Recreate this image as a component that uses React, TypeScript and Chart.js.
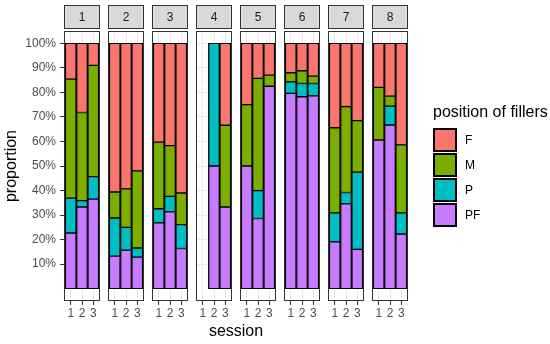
import React, { useEffect, useRef } from 'react';
import { Chart, registerables } from 'chart.js';

Chart.register(...registerables);

// ---------------- data ----------------
const panels = ['1', '2', '3', '4', '5', '6', '7', '8'];
const sessions = [1, 2, 3];
const fillerLevels = ['F', 'M', 'P', 'PF'];
const levelColors = ['#F8766D', '#7CAE00', '#00BFC4', '#C77CFF'];
const yTickValues = [10, 20, 30, 40, 50, 60, 70, 80, 90, 100];
const yMinorValues = [5, 15, 25, 35, 45, 55, 65, 75, 85, 95];

// proportions (%) per panel, sessions 1..3 (null = no data)
const PF = [[22.7, 33.3, 36.5], [13.3, 15.7, 12.9], [26.8, 31.3, 16.4], [null, 50, 33.3], [50, 28.6, 82.5], [79.6, 78.2, 78.6], [19.1, 34.6, 16.0], [60.6, 66.7, 22.3]];
const P = [[14.2, 2.6, 9.2], [15.5, 9.3, 3.7], [5.8, 6.3, 9.7], [null, 50, 0], [0, 11.4, 0], [4.7, 5.4, 5.0], [11.8, 4.6, 31.5], [0, 7.7, 8.6]];
const M = [[48.5, 35.9, 45.3], [10.6, 15.7, 31.4], [27.1, 20.7, 12.9], [null, 0, 33.3], [25, 45.7, 4.5], [3.7, 5.2, 3.0], [34.7, 35.0, 21.0], [21.4, 4.1, 27.7]];
const F = [[14.6, 28.2, 9.0], [60.6, 59.3, 52.0], [40.3, 41.7, 61.0], [null, 0, 33.4], [25, 14.3, 13.0], [12.0, 11.2, 13.4], [34.4, 25.8, 31.5], [18.0, 21.5, 41.4]];

// ---------------- layout / style ----------------
const W = 550;
const H = 344;
const PANEL_LEFT0 = 64;
const PANEL_STEP = 44;
const PANEL_W = 36;
const PANEL_TOP = 31;
const X_AXIS_H = 43;
const Y_AXIS_W = 64;
const STRIP_TOP = 5;
const STRIP_H = 24;
const FONT = '"Liberation Sans", Arial, Helvetica, sans-serif';

Chart.defaults.font.family = FONT;

const facetPlugin = {
  id: 'facet',
  beforeDraw(chart: any, _args: any, opts: any) {
    const { ctx, chartArea: a } = chart;
    ctx.save();
    ctx.fillStyle = '#FFFFFF';
    ctx.fillRect(a.left, a.top, a.right - a.left, a.bottom - a.top);
    ctx.fillStyle = '#D9D9D9';
    ctx.fillRect(a.left, opts.stripTop, a.right - a.left, opts.stripHeight);
    ctx.strokeStyle = '#333333';
    ctx.lineWidth = 1;
    ctx.strokeRect(a.left + 0.5, opts.stripTop + 0.5, a.right - a.left - 1, opts.stripHeight - 1);
    ctx.fillStyle = '#1A1A1A';
    ctx.font = `12px ${FONT}`;
    ctx.textAlign = 'center';
    ctx.textBaseline = 'middle';
    ctx.fillText(opts.label, (a.left + a.right) / 2, opts.stripTop + opts.stripHeight / 2 + 1);
    ctx.restore();
  },
  afterDatasetsDraw(chart: any) {
    const { ctx, chartArea: a } = chart;
    ctx.save();
    ctx.strokeStyle = '#333333';
    ctx.lineWidth = 1;
    ctx.strokeRect(a.left + 0.5, a.top + 0.5, a.right - a.left - 1, a.bottom - a.top - 1);
    ctx.restore();
  },
};

function buildConfig(p: number): any {
  const left = PANEL_LEFT0 + p * PANEL_STEP;
  const right = left + PANEL_W;
  const isFirst = p === 0;
  const stackOrder = ['PF', 'P', 'M', 'F'];
  const seriesByName: Record<string, (number | null)[][]> = { PF, P, M, F };

  const datasets = stackOrder.map((name) => ({
    label: name,
    data: sessions
      .map((s, j) => ({ x: s, y: seriesByName[name][p][j] }))
      .filter((d) => d.y != null && (d.y as number) > 0),
    backgroundColor: levelColors[fillerLevels.indexOf(name)],
    borderColor: '#000000',
    borderWidth: { top: 1, bottom: 1, left: 1.3, right: 1.3 },
    borderSkipped: false,
    barPercentage: 1,
    categoryPercentage: 1,
  }));

  return {
    type: 'bar',
    data: { datasets },
    plugins: [facetPlugin],
    options: {
      responsive: false,
      animation: false,
      devicePixelRatio: 1,
      events: [],
      layout: {
        padding: {
          left: isFirst ? 0 : left,
          right: W - right,
          top: PANEL_TOP,
          bottom: 0,
        },
      },
      plugins: {
        legend: { display: false },
        tooltip: { enabled: false },
        title: { display: false },
        facet: { label: panels[p], stripTop: STRIP_TOP, stripHeight: STRIP_H },
      },
      scales: {
        x: {
          type: 'linear',
          min: 0.4,
          max: 3.6,
          stacked: true,
          offset: false,
          afterBuildTicks: (s: any) => {
            s.ticks = sessions.map((v) => ({ value: v }));
          },
          afterFit: (s: any) => {
            s.height = X_AXIS_H;
          },
          ticks: {
            autoSkip: false,
            maxRotation: 0,
            padding: 1,
            color: '#4D4D4D',
            font: { size: 12 },
            callback: (v: any) => String(v),
          },
          grid: {
            offset: false,
            color: '#EBEBEB',
            lineWidth: 1,
            drawTicks: true,
            tickLength: 4,
            tickColor: '#333333',
            tickWidth: 1,
          },
          border: { display: false },
        },
        y: {
          type: 'linear',
          min: -5,
          max: 105,
          stacked: true,
          afterBuildTicks: (s: any) => {
            s.ticks = [...yMinorValues, ...yTickValues]
              .sort((a, b) => a - b)
              .map((v) => ({ value: v }));
          },
          afterFit: (s: any) => {
            s.width = isFirst ? Y_AXIS_W : 0;
          },
          ticks: {
            display: isFirst,
            autoSkip: false,
            padding: 4,
            color: '#4D4D4D',
            font: { size: 12 },
            callback: (v: any) => (yTickValues.includes(v) ? `${v}%` : ''),
          },
          grid: {
            color: (c: any) => (c.tick && yTickValues.includes(c.tick.value) ? '#EBEBEB' : '#F4F4F4'),
            lineWidth: (c: any) => (c.tick && yTickValues.includes(c.tick.value) ? 1 : 0.6),
            drawTicks: isFirst,
            tickLength: 4,
            tickColor: (c: any) => (c.tick && yTickValues.includes(c.tick.value) ? '#333333' : 'rgba(0,0,0,0)'),
            tickWidth: 1,
          },
          border: { display: false },
          title: {
            display: isFirst,
            text: 'proportion',
            color: '#000000',
            font: { size: 16 },
            padding: { top: 2, bottom: 0 },
          },
        },
      },
    },
  };
}

function FacetPanel({ index }: { index: number }) {
  const ref = useRef<HTMLCanvasElement>(null);
  useEffect(() => {
    const chart = new Chart(ref.current as HTMLCanvasElement, buildConfig(index));
    return () => chart.destroy();
  }, [index]);
  return (
    <canvas
      ref={ref}
      width={W}
      height={H}
      style={{ position: 'absolute', left: 0, top: 0, width: W, height: H }}
    />
  );
}

export default function App() {
  const lastRight = PANEL_LEFT0 + (panels.length - 1) * PANEL_STEP + PANEL_W;
  return (
    <div
      style={{
        position: 'fixed',
        left: 0,
        top: 0,
        width: W,
        height: H,
        background: '#FFFFFF',
        overflow: 'hidden',
        fontFamily: FONT,
      }}
    >
      {panels.map((_, i) => (
        <FacetPanel key={i} index={i} />
      ))}
      <div
        style={{
          position: 'absolute',
          left: PANEL_LEFT0,
          width: lastRight - PANEL_LEFT0,
          top: 321,
          height: 20,
          lineHeight: '20px',
          textAlign: 'center',
          fontSize: 16,
          color: '#000000',
        }}
      >
        session
      </div>
      <div
        style={{
          position: 'absolute',
          left: 433,
          top: 102,
          height: 20,
          lineHeight: '20px',
          fontSize: 16,
          color: '#000000',
          whiteSpace: 'nowrap',
        }}
      >
        position of fillers
      </div>
      {fillerLevels.map((lv, k) => (
        <React.Fragment key={lv}>
          <div
            style={{
              position: 'absolute',
              left: 433,
              top: 128 + k * 25,
              width: 24,
              height: 24,
              boxSizing: 'border-box',
              border: '2px solid #000000',
              background: levelColors[k],
            }}
          />
          <div
            style={{
              position: 'absolute',
              left: 465,
              top: 128 + k * 25,
              height: 24,
              lineHeight: '24px',
              fontSize: 12,
              color: '#000000',
              whiteSpace: 'nowrap',
            }}
          >
            {lv}
          </div>
        </React.Fragment>
      ))}
    </div>
  );
}
